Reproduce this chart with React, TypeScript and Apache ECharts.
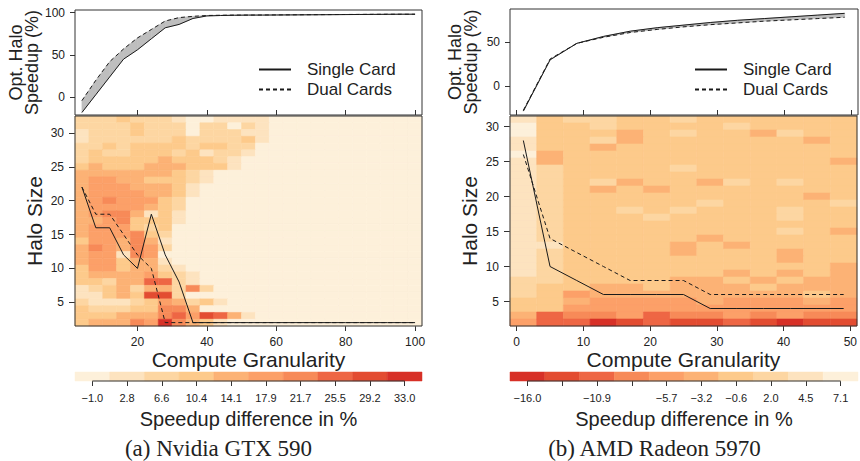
import React, { useEffect, useRef } from 'react';
import * as echarts from 'echarts';

// ---------- shared colour scale (10 classes, light -> dark) ----------
const palette = ['#FDF0DA', '#FDE3BF', '#FDD6A2', '#FDCA8B', '#FCB275', '#FCA068', '#F78A58', '#EE6644', '#E34C31', '#D73027'];

// ---------- (a) Nvidia GTX 590 ----------
const leftGranularity = [4, 8, 12, 16, 20, 24, 28, 32, 36, 40, 44, 48, 52, 56, 60, 64, 68, 72, 76, 80, 84, 88, 92, 96, 100];
const leftHalo = [32, 31, 30, 29, 28, 27, 26, 25, 24, 23, 22, 21, 20, 19, 18, 17, 16, 15, 14, 13, 12, 11, 10, 9, 8, 7, 6, 5, 4, 3, 2];
// colour-bar class (0..9) of each cell, one string per halo size (top row = 32), one char per granularity
const leftClassRows = [
  '2223222100111100000000000',
  '2222322202202100000000000',
  '1222322202221100000000000',
  '1222222322223100000000000',
  '2232333323322000000000000',
  '2322333231221000000000000',
  '2333334333210000000000000',
  '3433344433310000000000000',
  '4444444321000000000000000',
  '4554433321000000000000000',
  '4555444310000000000000000',
  '4555544310000000000000000',
  '4565553200000000000000000',
  '4555543200000000000000000',
  '4566413100000000000000000',
  '4456333100000000000000000',
  '4555323000000000000000000',
  '4555632000000000000000000',
  '3554641000000000000000000',
  '4654652000000000000000000',
  '4551650000000000000000000',
  '4553441000000000000000000',
  '3553442100000000000000000',
  '3444453210000000000000000',
  '3324477210000000000000000',
  '1234244262000000000000000',
  '1134388200000000000000000',
  '2111235423100000000000000',
  '3222336640000000000000000',
  '3334446758741000000000000',
  '3444659643100000000000000',
];
const leftBarLabels = ['\u22121.0', '2.8', '6.6', '10.4', '14.1', '17.9', '21.7', '25.5', '29.2', '33.0'];
const leftBarValues = [-1.0, 2.8, 6.6, 10.4, 14.1, 17.9, 21.7, 25.5, 29.2, 33.0];
const leftTopSingle = [-18, 3, 24, 45, 56, 69, 82, 86, 93, 96, 96.5, 96.8, 97, 97, 97.1, 97.2, 97.3, 97.4, 97.5, 97.6, 97.7, 97.8, 97.9, 98, 98];
const leftTopDual = [-4, 20, 42, 57, 70, 80, 90, 94, 95.5, 96.5, 96.8, 97, 97, 97.1, 97.2, 97.3, 97.4, 97.5, 97.6, 97.7, 97.8, 97.9, 98, 98, 98];
const leftSingleHalo = [22, 16, 16, 12, 10, 18, 12, 8, 2, 2, 2, 2, 2, 2, 2, 2, 2, 2, 2, 2, 2, 2, 2, 2, 2];
const leftDualHalo = [22, 18, 18, 15, 12, 10, 2, 2, 2, 2, 2, 2, 2, 2, 2, 2, 2, 2, 2, 2, 2, 2, 2, 2, 2];
const leftXTicks = [20, 40, 60, 80, 100];

// ---------- (b) AMD Radeon 5970 ----------
const rightGranularity = [1, 5, 9, 13, 17, 21, 25, 29, 33, 37, 41, 45, 49];
const rightHalo = [31, 30, 29, 28, 27, 26, 25, 24, 23, 22, 21, 20, 19, 18, 17, 16, 15, 14, 13, 12, 11, 10, 9, 8, 7, 6, 5, 4, 3, 2];
// colour-bar position (0 = -16.0 dark red ... 9 = 7.1 light)
const rightClassRows = [
  '8677667666666',
  '9667666676666',
  '9666567665766',
  '8667566666656',
  '8665666666666',
  '9566666666666',
  '8566666666665',
  '8766667666666',
  '8766666666666',
  '8767566576766',
  '8765656666666',
  '8766666666656',
  '8766666766667',
  '8766767666766',
  '8766676666766',
  '8766666666666',
  '8766666666765',
  '8766666566666',
  '8866665656666',
  '8766665666566',
  '8766666666566',
  '8766666666665',
  '8766666656565',
  '7766665565655',
  '7665565556555',
  '7645555555565',
  '6654444544454',
  '6644444444444',
  '5233423343433',
  '4220121121011',
];
const rightBarLabels = ['\u221216.0', '\u221213.4', '\u221210.9', '\u22128.3', '\u22125.7', '\u22123.2', '\u22120.6', '2.0', '4.5', '7.1'];
const rightBarValues = [-16.0, -13.4, -10.9, -8.3, -5.7, -3.2, -0.6, 2.0, 4.5, 7.1];
const rightHiddenLabels = [1, 3];
const rightTopSingle = [-29, 30, 49, 57, 63, 67, 70, 73, 75.5, 77.5, 79.5, 81.5, 83.5];
const rightTopDual = [-28, 31, 49, 56, 61.5, 65, 68, 70.5, 72.5, 74.5, 76, 77.5, 79];
const rightSingleHalo = [28, 10, 8, 6, 6, 6, 6, 4, 4, 4, 4, 4, 4];
const rightDualHalo = [26, 14, 12, 10, 8, 8, 8, 6, 6, 6, 6, 6, 6];
const rightXTicks = [0, 10, 20, 30, 40, 50];

const haloTicks = [5, 10, 15, 20, 25, 30];

const FONT = '"Liberation Sans", Arial, Helvetica, sans-serif';
const SERIF = '"Liberation Serif", "Times New Roman", serif';
const INK = '#222222';
const LINE = '#1a1a1a';

function heatData(gran: number[], halo: number[], rows: string[], values: number[]) {
  const out: number[][] = [];
  rows.forEach((row, r) => {
    for (let c = 0; c < gran.length; c++) {
      out.push([gran[c], halo[r], values[Number(row[c])]]);
    }
  });
  return out;
}

const heatRender = (halfW: number) => (_p: any, api: any) => {
  const x = api.value(0);
  const y = api.value(1);
  const a = api.coord([x - halfW, y + 0.5]);
  const b = api.coord([x + halfW, y - 0.5]);
  const color = api.visual('color');
  return {
    type: 'rect',
    shape: { x: a[0], y: a[1], width: b[0] - a[0], height: b[1] - a[1] },
    style: { fill: color, stroke: color, lineWidth: 0.6 },
  };
};

const barRender = (_p: any, api: any) => {
  const c = api.coord([api.value(0), 0.5]);
  const s = api.size([1, 1]);
  const color = api.visual('color');
  return {
    type: 'rect',
    shape: { x: c[0] - s[0] / 2, y: c[1] - s[1] / 2, width: s[0], height: s[1] },
    style: { fill: color, stroke: color, lineWidth: 0.5 },
  };
};

const bandRender = (_p: any, api: any) => {
  const pts = [
    api.coord([api.value(0), api.value(1)]),
    api.coord([api.value(3), api.value(4)]),
    api.coord([api.value(3), api.value(5)]),
    api.coord([api.value(0), api.value(2)]),
  ];
  return { type: 'polygon', shape: { points: pts }, style: { fill: '#BEBEBE', stroke: '#BEBEBE', lineWidth: 0.6 } };
};

function pairs(xs: number[], ys: number[]) {
  return xs.map((x, i) => [x, ys[i]]);
}

function bandData(xs: number[], single: number[], dual: number[]) {
  const out: number[][] = [];
  for (let i = 0; i < xs.length - 1; i++) {
    out.push([xs[i], single[i], dual[i], xs[i + 1], single[i + 1], dual[i + 1]]);
  }
  return out;
}

function buildOption() {
  const grids = [
    { left: 75, top: 10, width: 347, height: 105 },
    { left: 75, top: 116, width: 347, height: 210 },
    { left: 75, top: 372, width: 347, height: 9 },
    { left: 510, top: 9, width: 348, height: 106 },
    { left: 510, top: 116, width: 348, height: 210 },
    { left: 510, top: 372, width: 348, height: 9 },
  ].map((g, i) => ({
    ...g,
    show: i % 3 !== 2,
    borderColor: '#333',
    borderWidth: 1,
    backgroundColor: 'transparent',
    z: 5,
  }));

  const tickLabel = { color: INK, fontSize: 12, fontFamily: FONT };
  const noLine = { show: false, onZero: false };
  const topX = (gridIndex: number, min: number, max: number, ticks: number[]) => ({
    type: 'value', gridIndex, min, max,
    axisLine: noLine, splitLine: { show: false },
    axisTick: { show: true, inside: true, length: 5, customValues: ticks, lineStyle: { color: '#333' } },
    axisLabel: { show: false },
  });
  const heatX = (gridIndex: number, min: number, max: number, ticks: number[]) => ({
    type: 'value', gridIndex, min, max,
    axisLine: noLine, splitLine: { show: false },
    axisTick: { show: true, length: 5, customValues: ticks, lineStyle: { color: '#333' } },
    axisLabel: { ...tickLabel, margin: 10, customValues: ticks },
    name: 'Compute Granularity', nameLocation: 'middle', nameGap: 19,
    nameTextStyle: { fontSize: 21, color: INK, fontFamily: FONT },
  });
  const barX = (gridIndex: number, labels: string[], hidden: number[]) => ({
    type: 'category', gridIndex, data: labels,
    axisLine: noLine, splitLine: { show: false },
    axisTick: { show: true, alignWithLabel: true, interval: 0, length: 5, lineStyle: { color: '#333' } },
    axisLabel: { color: INK, fontSize: 11, fontFamily: FONT, margin: 11, interval: (idx: number) => hidden.indexOf(idx) < 0 },
    name: 'Speedup difference in %', nameLocation: 'middle', nameGap: 28,
    nameTextStyle: { fontSize: 20, color: INK, fontFamily: FONT },
  });
  const topY = (gridIndex: number, min: number, max: number, ticks: number[], gap: number) => ({
    type: 'value', gridIndex, min, max,
    axisLine: noLine, splitLine: { show: false },
    axisTick: { show: true, length: 5, customValues: ticks, lineStyle: { color: '#333' } },
    axisLabel: { ...tickLabel, margin: 10, customValues: ticks },
    name: 'Opt. Halo\nSpeedup (%)', nameLocation: 'middle', nameRotate: 90, nameGap: gap,
    nameTextStyle: { fontSize: 18, lineHeight: 16, color: INK, fontFamily: FONT },
  });
  const heatY = (gridIndex: number, min: number, max: number, gap: number) => ({
    type: 'value', gridIndex, min, max,
    axisLine: noLine, splitLine: { show: false },
    axisTick: { show: true, length: 6, customValues: haloTicks, lineStyle: { color: '#333' } },
    axisLabel: { ...tickLabel, margin: 11, customValues: haloTicks },
    name: 'Halo Size', nameLocation: 'middle', nameRotate: 90, nameGap: gap,
    nameTextStyle: { fontSize: 21, color: INK, fontFamily: FONT },
  });
  const barY = (gridIndex: number) => ({ type: 'value', gridIndex, min: 0, max: 1, show: false });

  const lineSeries = (name: string, xi: number, data: number[][], dashed: boolean) => ({
    type: 'line', name, xAxisIndex: xi, yAxisIndex: xi, data, symbol: 'none', showSymbol: false, z: 3,
    lineStyle: { color: LINE, width: 1, type: dashed ? [4, 3] : 'solid' },
    itemStyle: { color: LINE },
  });

  const series: any[] = [
    // 0
    { type: 'custom', xAxisIndex: 1, yAxisIndex: 1, renderItem: heatRender(2), encode: { x: 0, y: 1 },
      data: heatData(leftGranularity, leftHalo, leftClassRows, leftBarValues), z: 1 },
    // 1,2
    lineSeries('heat-single-a', 1, pairs(leftGranularity, leftSingleHalo), false),
    lineSeries('heat-dual-a', 1, pairs(leftGranularity, leftDualHalo), true),
    // 3
    { type: 'custom', xAxisIndex: 0, yAxisIndex: 0, renderItem: bandRender, encode: { x: [0, 3], y: [1, 2, 4, 5] },
      data: bandData(leftGranularity, leftTopSingle, leftTopDual), z: 2 },
    // 4,5
    lineSeries('Single Card', 0, pairs(leftGranularity, leftTopSingle), false),
    lineSeries('Dual Cards', 0, pairs(leftGranularity, leftTopDual), true),
    // 6
    { type: 'custom', xAxisIndex: 2, yAxisIndex: 2, renderItem: barRender, encode: { x: 0, y: 1 },
      data: leftBarValues.map((v, i) => [i, 0.5, v]), z: 1 },
    // 7
    { type: 'line', xAxisIndex: 2, yAxisIndex: 2, data: leftBarValues.map((_v, i) => [i, 0]), symbol: 'none', clip: false,
      lineStyle: { color: '#333', width: 1 }, z: 3 },
    // 8
    { type: 'custom', xAxisIndex: 4, yAxisIndex: 4, renderItem: heatRender(2), encode: { x: 0, y: 1 },
      data: heatData(rightGranularity, rightHalo, rightClassRows, rightBarValues), z: 1 },
    // 9,10
    lineSeries('heat-single-b', 4, pairs(rightGranularity, rightSingleHalo), false),
    lineSeries('heat-dual-b', 4, pairs(rightGranularity, rightDualHalo), true),
    // 11
    { type: 'custom', xAxisIndex: 3, yAxisIndex: 3, renderItem: bandRender, encode: { x: [0, 3], y: [1, 2, 4, 5] },
      data: bandData(rightGranularity, rightTopSingle, rightTopDual), z: 2 },
    // 12,13
    lineSeries('Single Card', 3, pairs(rightGranularity, rightTopSingle), false),
    lineSeries('Dual Cards', 3, pairs(rightGranularity, rightTopDual), true),
    // 14
    { type: 'custom', xAxisIndex: 5, yAxisIndex: 5, renderItem: barRender, encode: { x: 0, y: 1 },
      data: rightBarValues.map((v, i) => [i, 0.5, v]), z: 1 },
    // 15
    { type: 'line', xAxisIndex: 5, yAxisIndex: 5, data: rightBarValues.map((_v, i) => [i, 0]), symbol: 'none', clip: false,
      lineStyle: { color: '#333', width: 1 }, z: 3 },
  ];

  const legend = (left: number) => ({
    orient: 'vertical', left, top: 61, padding: 0, itemWidth: 32, itemHeight: 14, itemGap: 3,
    selectedMode: false,
    itemStyle: { opacity: 0, borderWidth: 0 },
    data: [{ name: 'Single Card' }, { name: 'Dual Cards' }],
    textStyle: { fontSize: 17, color: INK, fontFamily: FONT, padding: [0, 0, 0, 11] },
  });

  return {
    animation: false,
    backgroundColor: '#ffffff',
    textStyle: { fontFamily: FONT },
    grid: grids,
    xAxis: [
      topX(0, 2, 102, leftXTicks),
      heatX(1, 2, 102, leftXTicks),
      barX(2, leftBarLabels, []),
      topX(3, -1, 51, rightXTicks),
      heatX(4, -1, 51, rightXTicks),
      barX(5, rightBarLabels, rightHiddenLabels),
    ],
    yAxis: [
      topY(0, -21, 103, [0, 50, 100], 34),
      heatY(1, 1.5, 32.5, 30),
      barY(2),
      topY(3, -33.5, 88.5, [0, 50], 31),
      heatY(4, 1.5, 31.5, 30),
      barY(5),
    ],
    visualMap: [
      { type: 'piecewise', show: false, dimension: 2, seriesIndex: [0, 6],
        pieces: leftBarValues.map((v, i) => ({ value: v, color: palette[i] })) },
      { type: 'piecewise', show: false, dimension: 2, seriesIndex: [8, 14],
        pieces: rightBarValues.map((v, i) => ({ value: v, color: palette[9 - i] })) },
    ],
    legend: [legend(258), legend(694)],
    series,
    graphic: [
      { type: 'text', x: 218.5, y: 448, style: { text: '(a) Nvidia GTX 590', fontSize: 23, fontFamily: SERIF, fill: INK, align: 'center', verticalAlign: 'middle' } },
      { type: 'text', x: 654.5, y: 448, style: { text: '(b) AMD Radeon 5970', fontSize: 23, fontFamily: SERIF, fill: INK, align: 'center', verticalAlign: 'middle' } },
    ],
  };
}

export default function App() {
  const ref = useRef<HTMLDivElement>(null);
  useEffect(() => {
    document.body.style.margin = '0';
    if (!ref.current) return;
    const chart = echarts.init(ref.current, null, { renderer: 'svg' });
    chart.setOption(buildOption() as any);
    return () => chart.dispose();
  }, []);
  return <div ref={ref} style={{ width: 860, height: 461 }} />;
}
